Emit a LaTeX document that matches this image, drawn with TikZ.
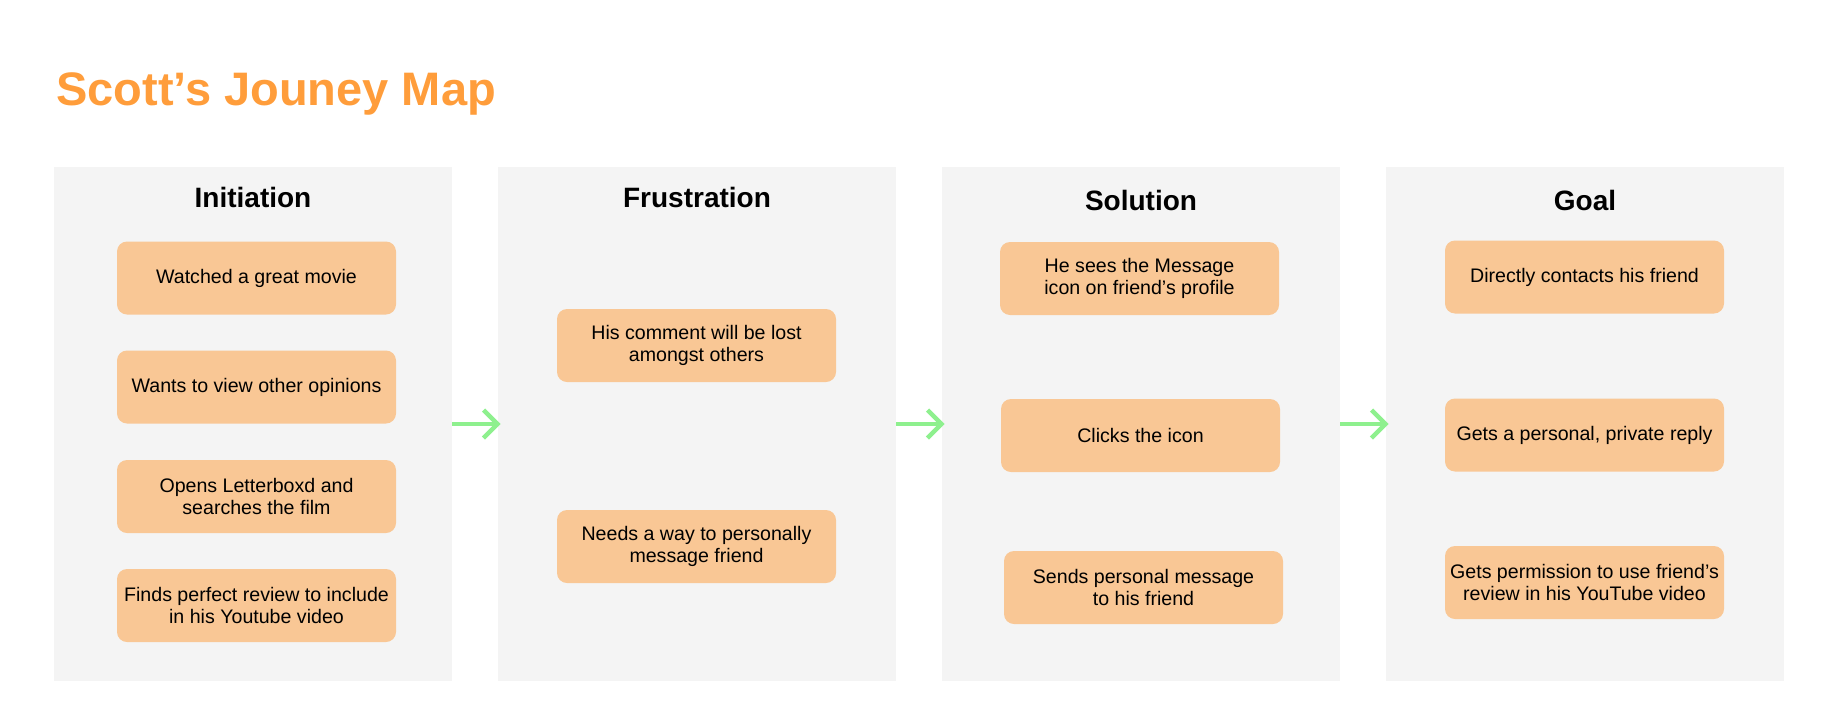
\documentclass[tikz,border=0pt]{standalone}
\usepackage{fontspec}
\setmainfont{Liberation Sans}
\usetikzlibrary{positioning}
\usetikzlibrary{arrows.meta}
\tikzset{>={Straight Barb[length=7pt,width=14pt]}}
\definecolor{panelgray}{HTML}{F4F4F4}
\definecolor{cardorange}{HTML}{F9C795}
\definecolor{titleorange}{HTML}{FF9D3B}
\definecolor{arrowgreen}{HTML}{8EF08E}

\begin{document}
\begin{tikzpicture}[x=0.5pt, y=-0.5pt, panelnode/.style={rectangle, fill=panelgray, inner sep=0pt, minimum width=199pt, minimum height=257pt}, cardnode/.style={rectangle, rounded corners=5pt, fill=cardorange, inner sep=0pt, minimum width=139.5pt, minimum height=36.5pt, align=center, font=\fontsize{9.8}{11.2}\selectfont}, headnode/.style={inner sep=0pt, font=\fontsize{14}{16}\selectfont\bfseries}, titlenode/.style={inner sep=0pt, text=titleorange, font=\fontsize{23.5}{28}\selectfont\bfseries}, flowline/.style={->, draw=arrowgreen, line width=2.2pt}]
    \useasboundingbox (0,0) rectangle (1821,718);

    %Nodes
    \node[titlenode, anchor=base west](title) at (56,105){Scott’s Jouney Map};

    \node[panelnode](initiation) at (253,424){};
    \node[panelnode](frustration) at (697,424){};
    \node[panelnode](solution) at (1141,424){};
    \node[panelnode](goal) at (1585,424){};

    \node[headnode, below=10pt of initiation.north](initiation_text){Initiation};
    \node[headnode, below=10pt of frustration.north](frustration_text){Frustration};
    \node[headnode, below=11.5pt of solution.north](solution_text){Solution};
    \node[headnode, below=11.5pt of goal.north](goal_text){Goal};

    \node[cardnode](watched) at (256.5,278){Watched a great movie};
    \node[cardnode](opinions) at (256.5,387){Wants to view other opinions};
    \node[cardnode](letterboxd) at (256.5,496.5){Opens Letterboxd and\\searches the film};
    \node[cardnode](review) at (256.5,605.5){Finds perfect review to include\\in his Youtube video};

    \node[cardnode](lost) at (696.5,345.5){His comment will be lost\\amongst others};
    \node[cardnode](message) at (696.5,546.5){Needs a way to personally\\message friend};

    \node[cardnode](sees) at (1139.5,278.5){He sees the Message\\icon on friend’s profile};
    \node[cardnode](clicks) at (1140.5,435.5){Clicks the icon};
    \node[cardnode](sends) at (1143.5,587.5){Sends personal message\\to his friend};

    \node[cardnode](contacts) at (1584.5,277){Directly contacts his friend};
    \node[cardnode](reply) at (1584.5,435){Gets a personal, private reply};
    \node[cardnode](permission) at (1584.5,582.5){Gets permission to use friend’s\\review in his YouTube video};

    %Lines
    \draw[flowline] (initiation.east) -- ([xshift=1.5pt]frustration.west);
    \draw[flowline] (frustration.east) -- ([xshift=1.5pt]solution.west);
    \draw[flowline] (solution.east) -- ([xshift=1.5pt]goal.west);

\end{tikzpicture}
\end{document}
